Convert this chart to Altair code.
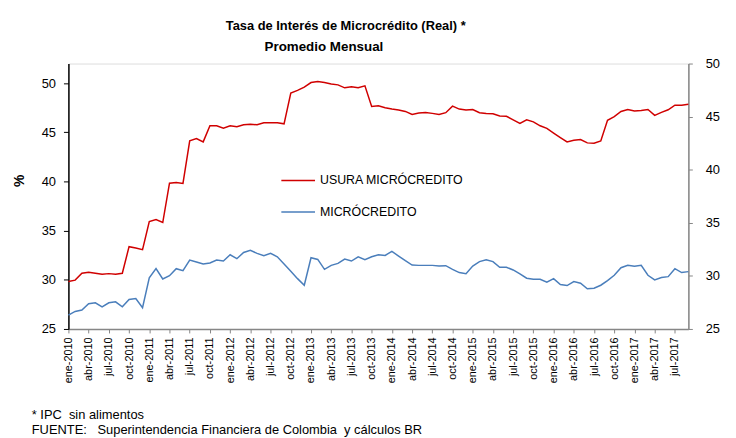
import altair as alt
import pandas as pd

meses = ['ene', 'feb', 'mar', 'abr', 'may', 'jun', 'jul', 'ago', 'sep', 'oct', 'nov', 'dic']
anios = list(range(2010, 2018))
periodos = [f"{m}-{a}" for a in anios for m in meses][:93]
ticks = periodos[::3]

usura = [
    29.83, 29.97, 30.67, 30.77, 30.67, 30.57, 30.63, 30.57, 30.67, 33.37, 33.23, 33.07,
    35.93, 36.13, 35.83, 39.83, 39.90, 39.80, 44.13, 44.37, 44.03, 45.67, 45.67, 45.43,
    45.67, 45.57, 45.77, 45.83, 45.77, 45.97, 45.97, 45.97, 45.87, 49.00, 49.27, 49.60,
    50.07, 50.17, 50.07, 49.93, 49.83, 49.53, 49.63, 49.53, 49.73, 47.63, 47.70, 47.50,
    47.37, 47.27, 47.13, 46.83, 46.97, 47.03, 46.93, 46.83, 47.00, 47.67, 47.37, 47.27,
    47.33, 47.00, 46.93, 46.90, 46.67, 46.63, 46.27, 45.90, 46.27, 46.07, 45.67, 45.40,
    44.93, 44.47, 44.03, 44.20, 44.27, 43.93, 43.90, 44.13, 46.23, 46.60, 47.13, 47.33,
    47.17, 47.23, 47.33, 46.73, 47.03, 47.30, 47.77, 47.77, 47.87,
]

micro = [
    26.31, 26.65, 26.78, 27.37, 27.47, 27.09, 27.47, 27.56, 27.09, 27.78, 27.87, 27.00,
    29.81, 30.68, 29.71, 30.02, 30.68, 30.49, 31.49, 31.30, 31.12, 31.21, 31.49, 31.40,
    31.99, 31.62, 32.21, 32.40, 32.12, 31.90, 32.12, 31.80, 31.12, 30.43, 29.74, 29.12,
    31.71, 31.55, 30.62, 30.99, 31.18, 31.59, 31.40, 31.80, 31.52, 31.80, 31.99, 31.93,
    32.30, 31.87, 31.43, 31.02, 30.99, 30.99, 30.99, 30.93, 30.96, 30.62, 30.31, 30.21,
    30.93, 31.34, 31.52, 31.34, 30.81, 30.81, 30.56, 30.18, 29.78, 29.68, 29.68, 29.40,
    29.74, 29.18, 29.09, 29.46, 29.31, 28.78, 28.84, 29.12, 29.56, 30.06, 30.77, 30.99,
    30.90, 30.99, 30.06, 29.62, 29.84, 29.93, 30.68, 30.31, 30.40,
]

series = ['USURA MICRÓCREDITO', 'MICRÓCREDITO']
colores = ['#D00000', '#4A7EBB']

titulo = 'Tasa de Interés de Microcrédito (Real) *'
subtitulo = 'Promedio Mensual'
nota1 = '* IPC\u00a0 sin alimentos'
nota2 = 'FUENTE:\u00a0\u00a0\u00a0Superintendencia Financiera de Colombia\u00a0 y cálculos BR'

df = pd.DataFrame({
    'periodo': periodos * 2,
    'serie': [series[0]] * len(periodos) + [series[1]] * len(periodos),
    'valor': usura + micro,
})

FONT = 'Liberation Sans'

x_enc = alt.X(
    'periodo:O', sort=periodos,
    scale=alt.Scale(type='point', padding=0),
    axis=alt.Axis(
        values=ticks, labelAngle=-90, title=None,
        labelFont=FONT, labelFontSize=11, labelColor='#000000',
        domainColor='#868686', domainWidth=1.5, tickColor='#868686',
        tickSize=4, labelPadding=4, grid=False,
    ),
)

color_enc = alt.Color(
    'serie:N',
    scale=alt.Scale(domain=series, range=colores),
    legend=alt.Legend(
        orient='none', legendX=214, legendY=100, title=None,
        symbolType='stroke', symbolSize=1156, symbolStrokeWidth=1.5,
        labelFont=FONT, labelFontSize=12.5, labelColor='#000000',
        labelOffset=4, rowPadding=7, padding=0,
    ),
)

base = alt.Chart(df)

rojo = base.transform_filter(alt.datum.serie == series[0]).mark_line(strokeWidth=1.5).encode(
    x=x_enc,
    y=alt.Y(
        'valor:Q',
        scale=alt.Scale(domain=[25, 52], nice=False, zero=False),
        axis=alt.Axis(
            values=[25, 30, 35, 40, 45, 50], title='%', grid=False,
            labelFont=FONT, labelFontSize=13, labelColor='#000000',
            domainColor='#000000', domainWidth=1.5, tickColor='#000000',
            tickSize=5, labelPadding=8,
            titleFont=FONT, titleFontSize=14, titleFontWeight='bold',
            titleColor='#000000', titleX=-49, titleY=118, titleAngle=270,
            titleAlign='center', titleBaseline='middle',
        ),
    ),
    color=color_enc,
)

azul = base.transform_filter(alt.datum.serie == series[1]).mark_line(strokeWidth=1.5).encode(
    x=x_enc,
    y=alt.Y(
        'valor:Q',
        scale=alt.Scale(domain=[25, 50], nice=False, zero=False),
        axis=alt.Axis(
            orient='right', values=[25, 30, 35, 40, 45, 50], title=None, grid=False,
            labelFont=FONT, labelFontSize=13, labelColor='#000000',
            domainColor='#868686', domainWidth=1.5, tickColor='#868686',
            tickSize=4, labelPadding=13,
        ),
    ),
    color=color_enc,
)

def texto(t, x, y, size, weight='normal', align='left'):
    return alt.Chart(pd.DataFrame({'t': [t]})).mark_text(
        font=FONT, fontSize=size, fontWeight=weight, align=align,
        baseline='alphabetic', color='#000000',
    ).encode(text='t:N', x=alt.value(x), y=alt.value(y))

capas = alt.layer(
    rojo, azul,
    texto(titulo, 280, -34, 13, 'bold', 'center'),
    texto(subtitulo, 258, -13, 13.5, 'bold', 'center'),
    texto(nota1, -37, 359, 13),
    texto(nota2, -37, 374, 13),
).resolve_scale(y='independent').properties(
    width=626, height=268,
    autosize=alt.AutoSizeParams(type='none'),
    padding={'left': 61, 'top': 54, 'right': 40, 'bottom': 108},
).configure_view(stroke='#868686', strokeWidth=1.5).configure(background='white')

chart = capas
chart.save('out.html', embed_options={'renderer': 'svg', 'actions': False})
